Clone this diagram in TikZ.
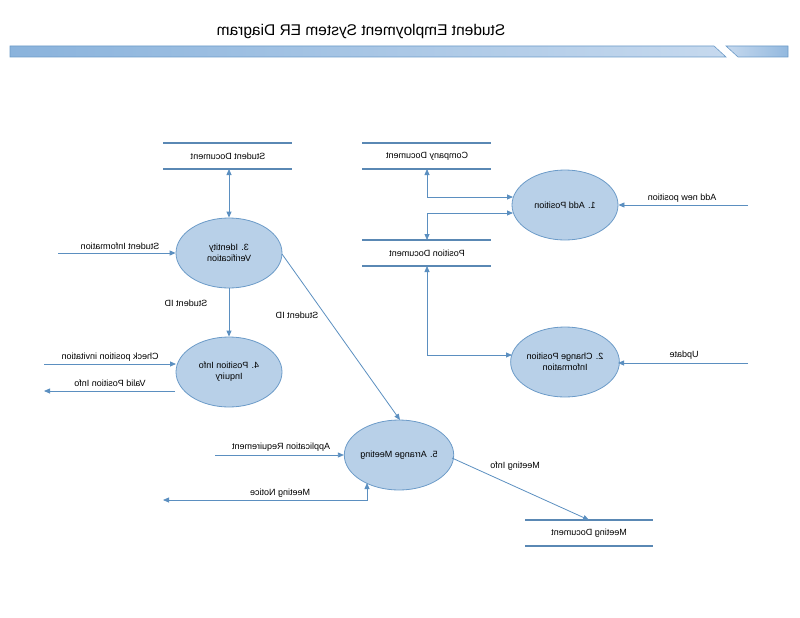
\documentclass[tikz,border=0pt]{standalone}
\usepackage{fontspec}
\setmainfont{Liberation Sans}
\usetikzlibrary{arrows.meta,shapes.geometric}
\definecolor{ln}{HTML}{5B8FC0}
\definecolor{st}{HTML}{5A88B4}
\definecolor{efill}{HTML}{B8D0E8}
\definecolor{edraw}{HTML}{6C9BC8}
\definecolor{barL}{HTML}{8AB3DC}
\definecolor{barR}{HTML}{C6D9EE}
\tikzset{
  flip/.style={xscale=-1, transform shape},
  lbl/.style={flip, font=\fontsize{9}{10.5}\selectfont, inner sep=1pt},
  proc/.style={flip, ellipse, draw=edraw, fill=efill, line width=0.8pt, minimum width=106pt, minimum height=70pt, align=center, font=\fontsize{9}{11}\selectfont, inner sep=0pt},
  storeline/.style={draw=st, line width=2pt},
  conn/.style={draw=ln, line width=0.8pt},
  arr/.style={conn, -{Triangle[length=6pt,width=5pt]}},
  darr/.style={conn, {Triangle[length=6pt,width=5pt]}-{Triangle[length=6pt,width=5pt]}},
}
\begin{document}
\begin{tikzpicture}[x=1pt,y=-1pt]
\useasboundingbox (0,0) rectangle (800,618);
% title banner
\node[flip, font=\fontsize{15.5}{18}\selectfont] (title) at (361,31) {Student Employment System ER Diagram};
\shade[left color=barL, right color=barR, draw=edraw, line width=0.6pt] (10,46) -- (714,46) -- (726,57) -- (10,57) -- cycle;
\shade[left color=barR, right color=barL!85!barR, draw=edraw, line width=0.6pt] (726,46) -- (788,46) -- (788,57) -- (738,57) -- cycle;
% data stores
\draw[storeline] (163,143) -- (292,143); \draw[storeline] (163,169) -- (292,169);
\node[lbl] (sd) at (228,156) {Student Document};
\draw[storeline] (362,143) -- (491,143); \draw[storeline] (362,169) -- (491,169);
\node[lbl] (cd) at (427,156) {Company Document};
\draw[storeline] (362,240) -- (491,240); \draw[storeline] (362,266) -- (491,266);
\node[lbl] (pd) at (427,253) {Position Document};
\draw[storeline] (525,520) -- (653,520); \draw[storeline] (525,546) -- (653,546);
\node[lbl] (md) at (589,533) {Meeting Document};
\coordinate (sdB) at (229,169);
\coordinate (cdB) at (427,169);
\coordinate (pdT) at (427,240);
\coordinate (pdB) at (427,266);
\coordinate (mdT) at (589,520);
% processes
\node[proc] (p3) at (229,253) {3. Identity\\Verification};
\node[proc] (p4) at (229,372) {4. Position Info\\Inquiry};
\node[proc] (p1) at (565,205) {1. Add Position};
\node[proc] (p2) at (565,362) {2. Change Position\\Information};
\node[proc] (p5) at (399,455) {5. Arrange Meeting};
% connectors
\draw[darr] (sdB) -- (p3.north);
\coordinate (p1a) at (513,197);
\coordinate (p1b) at (513,213);
\draw[darr] (cdB) |- (p1a);
\draw[darr] (pdT) |- (p1b);
\coordinate (p2a) at (512,355);
\draw[darr] (pdB) |- (p2a);
\coordinate (anp) at (748,205);
\draw[arr] (anp) -- (p1.west);
\node[lbl] (anpL) at (682,198) {Add new position};
\coordinate (upd) at (748,363);
\draw[arr] (upd) -- (618,363);
\node[lbl] (updL) at (684,355) {Update};
\coordinate (si) at (58,253);
\draw[arr] (si) -- (p3.east);
\node[lbl] (siL) at (120,246) {Student Information};
\draw[arr] (p3.south) -- (p4.north);
\node[lbl] (sidL) at (186,303) {Student ID};
\coordinate (cpi) at (44,364);
\draw[arr] (cpi) -- (176,364);
\node[lbl] (cpiL) at (110,357) {Check position invitation};
\coordinate (vpi) at (44,391);
\draw[arr] (175,391) -- (vpi);
\node[lbl] (vpiL) at (110,383) {Valid Position Info};
\draw[arr] (282,254) -- (400,420);
\node[lbl] (sid2L) at (297,315) {Student ID};
\coordinate (ar) at (215,455);
\draw[arr] (ar) -- (p5.east);
\node[lbl] (arL) at (281,447) {Application Requirement};
\coordinate (mn) at (163,500);
\draw[darr] (mn) -| (367,483);
\node[lbl] (mnL) at (280,493) {Meeting Notice};
\draw[arr] (452,458) -- (mdT);
\node[lbl] (miL) at (515,466) {Meeting Info};
\end{tikzpicture}
\end{document}
